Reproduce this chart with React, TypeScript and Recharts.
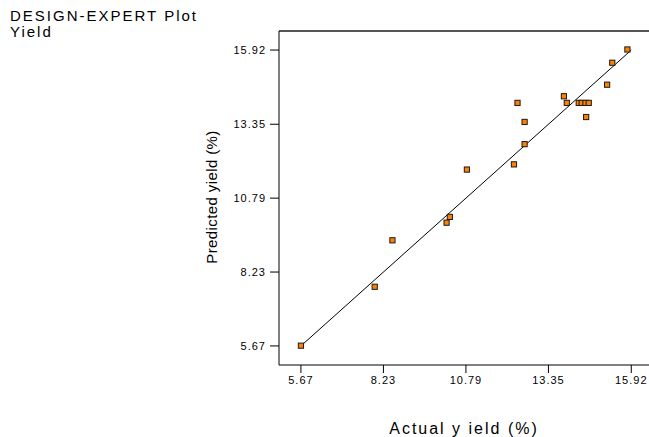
import React from 'react';
import {
  ScatterChart, Scatter, XAxis, YAxis, ReferenceLine,
} from 'recharts';

// actual vs predicted yield
const actualYield = [15.80, 15.33, 15.17, 13.83, 13.92, 12.39, 14.29, 14.38, 14.50, 14.60, 14.52, 12.61, 12.61, 12.28, 10.82, 10.29, 10.19, 8.51, 7.96, 5.67];
const predictedYield = [15.94, 15.48, 14.72, 14.32, 14.09, 14.09, 14.09, 14.09, 14.09, 14.09, 13.60, 13.43, 12.66, 11.96, 11.78, 10.14, 9.94, 9.33, 7.72, 5.68];
const axisTicks = [5.67, 8.23, 10.79, 13.35, 15.92];
const fitLine = [5.67, 15.92];

const points = actualYield.map((x, i) => ({ x, y: predictedYield[i] }));

const FONT = '"Liberation Sans", Arial, sans-serif';
const xDomain: [number, number] = [4.99, 16.47];
const yDomain: [number, number] = [5.01, 16.58];

const SquareDot = (props: any) => {
  const { cx, cy } = props;
  if (cx == null || cy == null) return null;
  return <rect x={cx - 2.6} y={cy - 2.6} width={5.2} height={5.2} fill="#ff8000" stroke="#1a1a1a" strokeWidth={1} />;
};

const YTitle = () => (
  <text
    x={211}
    y={197}
    transform="rotate(-90 211 197)"
    textAnchor="middle"
    dominantBaseline="central"
    fontFamily={FONT}
    fontSize={15}
    letterSpacing={0.4}
    fill="#000"
  >
    Predicted yield (%)
  </text>
);

export default function App() {
  const tickStyle = { fontSize: 11, fill: '#000', fontFamily: FONT, letterSpacing: 1 };
  return (
    <div style={{ position: 'absolute', left: 0, top: 0, width: 649, height: 437, background: '#fff', overflow: 'hidden' }}>
      <div style={{ position: 'absolute', left: 10, top: 8, fontFamily: FONT, fontSize: 15, lineHeight: '16px', letterSpacing: 2, color: '#000' }}>
        DESIGN-EXPERT Plot<br />Yield
      </div>
      <ScatterChart width={649} height={437} margin={{ top: 31, right: 0, left: 0, bottom: 0 }}>
        <XAxis
          type="number"
          dataKey="x"
          domain={xDomain}
          allowDataOverflow
          ticks={axisTicks}
          tickFormatter={(v: number) => v.toFixed(2)}
          height={72}
          stroke="#000"
          tickSize={8}
          tickMargin={3}
          tick={tickStyle}
          label={{ value: 'Actual y ield (%)', position: 'insideBottom', offset: 3, fontSize: 16, fill: '#000', fontFamily: FONT, letterSpacing: 2 }}
        />
        <YAxis
          type="number"
          dataKey="y"
          domain={yDomain}
          allowDataOverflow
          ticks={axisTicks}
          tickFormatter={(v: number) => v.toFixed(2)}
          width={279}
          stroke="#000"
          tickSize={9}
          tickMargin={4}
          tick={tickStyle}
          label={{ content: () => <YTitle /> }}
        />
        <ReferenceLine y={yDomain[1]} stroke="#555" strokeWidth={2} />
        <ReferenceLine
          segment={[{ x: fitLine[0], y: fitLine[0] }, { x: fitLine[1], y: fitLine[1] }]}
          stroke="#000"
          strokeWidth={1}
        />
        <Scatter data={points} shape={<SquareDot />} isAnimationActive={false} />
      </ScatterChart>
    </div>
  );
}
